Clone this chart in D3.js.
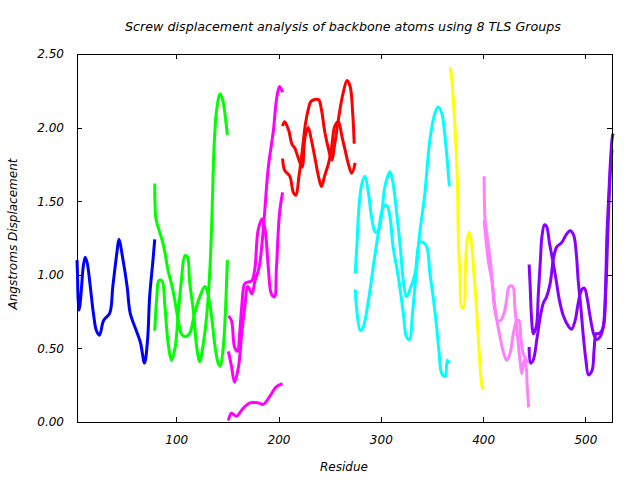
<!DOCTYPE html>
<html>
<head>
<meta charset="utf-8">
<script src="https://cdn.jsdelivr.net/npm/d3@7"></script>
<style>
body { margin: 0; background: #fff; }
text { font-family: "DejaVu Sans", sans-serif; font-style: italic; font-size: 12px; fill: #000; }
</style>
</head>
<body>
<svg id="chart" width="640" height="480"></svg>
<script>
const title = "Screw displacement analysis of backbone atoms using 8 TLS Groups";
const xLabel = "Residue";
const yLabel = "Angstroms Displacement";
const xTicks = [100, 200, 300, 400, 500];
const yTicks = [0, 0.5, 1.0, 1.5, 2.0, 2.5];
const xDomain = [3, 526];
const yDomain = [0, 2.5];

// Group 1 (blue)
const blueRes = [3,3.5,4,5,6,7.5,9,11,13,16,19,22,25,29,35,38,42,44,48,52,55,61,65,69,72,74,77,79];
const blueVal = [1.10,1.00,0.85,0.76,0.80,0.92,1.05,1.12,1.08,0.92,0.74,0.62,0.59,0.69,0.74,0.92,1.15,1.24,1.10,0.92,0.74,0.62,0.54,0.40,0.56,0.85,1.08,1.24];
// Group 2 (green)
const greenARes = [79,80,82,86,89,92,96,99,102,105,108.5,113,118,123,128,131,135,138,141,143,146,148,150];
const greenAVal = [1.62,1.39,1.33,1.24,1.15,1.03,0.92,0.81,0.69,0.60,0.58,0.60,0.74,0.85,0.92,0.87,0.69,0.51,0.40,0.38,0.51,0.74,1.10];
const greenBRes = [79,81,83,86,89,92,95.5,99,102,105,108.5,111,113,117,120,123,126,130,133,135,137,139.5,143,146,148,150];
const greenBVal = [0.62,0.85,0.96,0.96,0.78,0.54,0.42,0.51,0.74,0.96,1.13,1.12,0.96,0.74,0.51,0.41,0.51,0.74,1.05,1.42,1.87,2.12,2.23,2.17,2.07,1.95];
// Group 3 (magenta)
const magentaARes = [151,154,157,160,162,164,167,170,174,177,180,184,187,190,193,196,198,201,204];
const magentaAVal = [0.72,0.69,0.51,0.48,0.60,0.78,0.94,0.95,0.96,1.05,1.30,1.38,1.30,1.05,0.87,0.85,1.05,1.42,1.56];
const magentaBRes = [151,154,157,161,164,167,170,174,177,181,185,190,195,198,201,204];
const magentaBVal = [0.48,0.38,0.27,0.38,0.60,0.78,0.92,0.87,0.96,1.05,1.30,1.73,1.98,2.19,2.28,2.24];
const magentaCRes = [151,154,159,165,172,180,185,192,198,204];
const magentaCVal = [0.01,0.06,0.04,0.09,0.13,0.13,0.12,0.18,0.24,0.26];
// Group 4 (red)
const redARes = [204,206,210,213,216,219,223,226,229,232,236,239,242,245,249,252,255,258.5,262,265,268,271.5,275];
const redAVal = [2.01,2.04,1.98,1.89,1.86,1.80,1.73,1.94,2.00,1.92,1.78,1.67,1.60,1.67,1.76,1.87,2.01,2.04,1.94,1.85,1.76,1.69,1.76];
const redBRes = [204,206,211,214.5,217,220,223,226,229,232,239,242,245,249,252,255,260,263,267,270,272.5,274];
const redBVal = [1.79,1.71,1.67,1.56,1.54,1.67,1.83,2.01,2.12,2.18,2.19,2.12,1.98,1.85,1.78,1.89,2.12,2.23,2.32,2.28,2.10,1.89];
// Group 5 (cyan)
const cyanARes = [275,276.5,279,281.5,284.5,288,291,294.5,297.5,301,304,309,312,315.5,319,322,325,328.5,333.5,338,341.5,345,348,351.5,354.5,357,359.5,363,365,367];
const cyanAVal = [1.01,1.19,1.49,1.62,1.67,1.55,1.39,1.29,1.30,1.42,1.60,1.70,1.62,1.42,1.19,0.96,0.85,0.90,1.01,1.22,1.22,1.19,1.01,0.83,0.65,0.47,0.33,0.31,0.42,0.40];
const cyanBRes = [275,276.5,280,283,288,292.5,297.5,302.5,306,309,312,317,322,325,328,331,335,338,343,348,353,356,359.5,363,365.5,367];
const cyanBVal = [0.90,0.76,0.62,0.65,0.83,1.05,1.28,1.46,1.47,1.39,1.19,0.99,0.74,0.58,0.56,0.74,1.05,1.28,1.55,1.92,2.10,2.14,2.10,1.92,1.73,1.60];
// Group 6 (yellow)
const yellowRes = [368,369.5,371.5,373.5,375,376,377.5,379,381,382.5,384.5,386.5,389,391,393,395,397,398.5,400];
const yellowVal = [2.41,2.32,2.12,1.87,1.60,1.19,0.99,0.78,0.78,1.01,1.24,1.29,1.19,1.01,0.83,0.60,0.38,0.26,0.22];
// Group 7 (pink)
const pinkARes = [401,402,404,407,409.5,412,414,417,420.5,423,425.5,429,431,433.5,436,438,440,442,443,444.5];
const pinkAVal = [1.67,1.37,1.26,1.10,0.92,0.76,0.69,0.69,0.74,0.83,0.92,0.92,0.78,0.60,0.42,0.33,0.42,0.38,0.26,0.10];
const pinkBRes = [401,405,408.5,411,413.5,416.5,420,423,426.5,429.5,433,435,437,439,441,443.5];
const pinkBVal = [1.37,1.10,0.96,0.78,0.69,0.58,0.47,0.42,0.47,0.60,0.69,0.69,0.56,0.47,0.44,0.40];
// Group 8 (purple)
const purpleARes = [445,446,447.5,449,452,454,456,457.5,460,462,465,468,471.5,474.5,478.5,483.5,486.5,490,493,496.5,499,501.5,504.5,508,511,514.5,517.5,519.5,521,522.5,524,526,527];
const purpleAVal = [1.07,0.92,0.69,0.60,0.65,0.87,1.10,1.26,1.34,1.33,1.21,1.10,0.96,0.83,0.72,0.65,0.63,0.69,0.81,0.90,0.91,0.85,0.72,0.60,0.56,0.58,0.65,0.87,1.26,1.49,1.71,1.92,1.96];
const purpleBRes = [445,446.5,449,452.5,456,459,462,465.5,469,472,477,481,485,488.5,491,493,495.5,498,500.5,503,506.5,508.5,510.5,513,516,518,520,522,524,526];
const purpleBVal = [0.51,0.40,0.42,0.56,0.72,0.81,0.85,0.94,1.12,1.19,1.22,1.27,1.30,1.27,1.15,0.96,0.78,0.58,0.42,0.32,0.35,0.49,0.60,0.60,0.62,0.66,0.90,1.30,1.65,1.85];

const series = [
  {res: blueRes, val: blueVal, color: "#0000ff"},
  {res: greenARes, val: greenAVal, color: "#00ff00"},
  {res: greenBRes, val: greenBVal, color: "#00ff00"},
  {res: magentaARes, val: magentaAVal, color: "#ff00ff"},
  {res: magentaBRes, val: magentaBVal, color: "#ff00ff"},
  {res: magentaCRes, val: magentaCVal, color: "#ff00ff"},
  {res: redARes, val: redAVal, color: "#ff0000"},
  {res: redBRes, val: redBVal, color: "#ff0000"},
  {res: cyanARes, val: cyanAVal, color: "#00ffff"},
  {res: cyanBRes, val: cyanBVal, color: "#00ffff"},
  {res: yellowRes, val: yellowVal, color: "#ffff00"},
  {res: pinkARes, val: pinkAVal, color: "#ff80ff"},
  {res: pinkBRes, val: pinkBVal, color: "#ff80ff"},
  {res: purpleARes, val: purpleAVal, color: "#8800ff"},
  {res: purpleBRes, val: purpleBVal, color: "#8800ff"}
];

const L = 77, R = 612, T = 54, B = 422;
const svg = d3.select("#chart");
const x = d3.scaleLinear().domain(xDomain).range([L, R]);
const y = d3.scaleLinear().domain(yDomain).range([B, T]);

// lines
const line = d3.line().x(d => x(d[0])).y(d => y(d[1])).curve(d3.curveCatmullRom.alpha(0.5));
svg.append("g").selectAll("path").data(series).join("path")
  .attr("d", s => line(s.res.map((r, i) => [r, s.val[i]])))
  .attr("fill", "none")
  .attr("stroke", s => s.color)
  .attr("stroke-width", 3)
  .attr("stroke-linejoin", "round")
  .attr("stroke-linecap", "butt");

// axes
const tl = 5;
const gB = svg.append("g").attr("transform", `translate(0,${B})`)
  .call(d3.axisBottom(x).tickValues(xTicks).tickSize(-tl).tickPadding(13).tickFormat(d3.format("d")));
const gT = svg.append("g").attr("transform", `translate(0,${T})`)
  .call(d3.axisTop(x).tickValues(xTicks).tickSize(-tl).tickFormat(""));
const gL = svg.append("g").attr("transform", `translate(${L},0)`)
  .call(d3.axisLeft(y).tickValues(yTicks).tickSize(-tl).tickPadding(13).tickFormat(d3.format(".2f")));
const gR = svg.append("g").attr("transform", `translate(${R},0)`)
  .call(d3.axisRight(y).tickValues(yTicks).tickSize(-tl).tickFormat(""));
[gB, gT, gL, gR].forEach(g => {
  g.select(".domain").remove();
  g.selectAll("line").attr("stroke", "#000").attr("shape-rendering", "crispEdges");
  g.selectAll("text").attr("font-family", "DejaVu Sans").attr("font-style", "italic").attr("font-size", 12).attr("fill", "#000");
});
svg.append("rect").attr("x", L).attr("y", T).attr("width", R - L).attr("height", B - T)
  .attr("fill", "none").attr("stroke", "#000").attr("shape-rendering", "crispEdges");

svg.append("text").attr("x", 343).attr("y", 31).attr("text-anchor", "middle").style("font-size", "12.7px").text(title);
svg.append("text").attr("x", 344).attr("y", 471).attr("text-anchor", "middle").text(xLabel);
svg.append("text").attr("transform", "translate(17,234) rotate(-90)").attr("text-anchor", "middle").text(yLabel);
</script>
</body>
</html>
